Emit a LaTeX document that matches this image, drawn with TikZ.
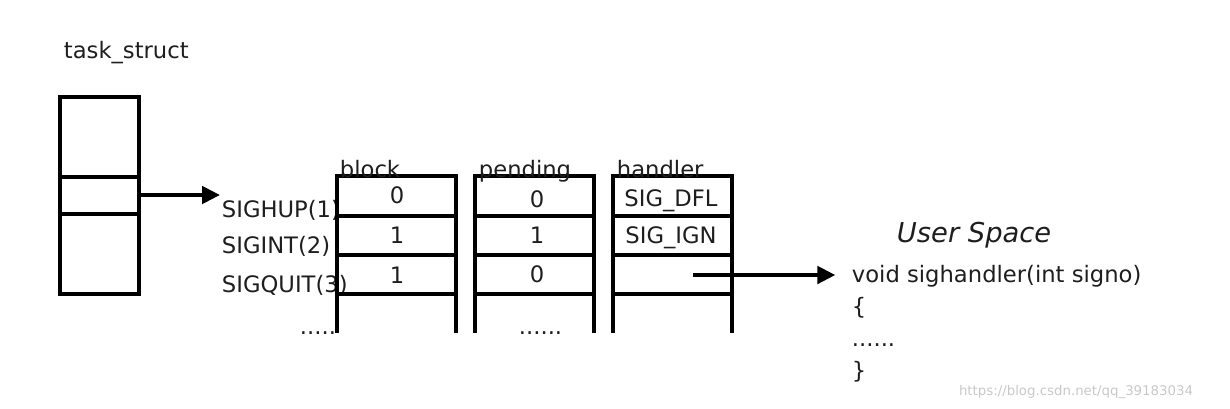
\documentclass[tikz,border=0pt]{standalone}
\usepackage{fontspec}
\setmainfont{DejaVu Sans}
\usetikzlibrary{arrows.meta, calc}
\definecolor{inkgray}{RGB}{30, 30, 30}
\definecolor{markgray}{RGB}{200, 200, 200}

\begin{document}
\begin{tikzpicture}[x=0.75pt, y=-0.75pt, >={Triangle[length=13.5pt, width=13pt]},
  line width=2.9pt,
  txt/.style={font=\fontsize{17}{20}\selectfont, text=inkgray, inner sep=0pt, anchor=base west},
  val/.style={font=\fontsize{17}{20}\selectfont, text=inkgray, inner sep=0pt, anchor=base}]

  \useasboundingbox (0,0) rectangle (1230,408);

  % task_struct box
  \node[txt] (tslabel) at (62,58) {task\_struct};
  \draw (60,97) rectangle (139,294);
  \draw (60,177) -- (139,177);
  \draw (60,214) -- (139,214);
  \coordinate (sigptr) at (139,195);

  % Signal names
  \node[txt] (sighup) at (220,217) {SIGHUP(1)};
  \node[txt] (sigint) at (220,253) {SIGINT(2)};
  \node[txt] (sigquit) at (220,292) {SIGQUIT(3)};
  \node[txt] (namedots) at (298,334) {.....};

  \draw[->] (sigptr) -- (sigptr -| sighup.west);

  % The three tables
  \foreach \x in {337,475,613} {
    \draw (\x,333) -- (\x,176) -- (\x+119,176) -- (\x+119,333);
    \foreach \y in {216,255,294}
      \draw (\x,\y) -- (\x+119,\y);
  }

  % Table headings
  \node[txt] (blockhd) at (338,177) {block};
  \node[txt] (pendinghd) at (477,177) {pending};
  \node[txt] (handlerhd) at (615,177) {handler};

  % block bits
  \node[val] (blk1) at (397,203) {0};
  \node[val] (blk2) at (397,243) {1};
  \node[val] (blk3) at (397,283) {1};

  % pending bits
  \node[val] (pnd1) at (537,207) {0};
  \node[val] (pnd2) at (537,243) {1};
  \node[val] (pnd3) at (537,282) {0};
  \node[txt] (pnddots) at (517,334) {......};

  % handler entries
  \node[val] (hnd1) at (671,206) {SIG\_DFL};
  \node[val] (hnd2) at (671,243) {SIG\_IGN};
  \coordinate (hndptr) at (693,275);

  % User space function
  \node[txt, font=\fontsize{20.5}{24}\selectfont\itshape] (userspace) at (895,242) {User Space};
  \node[txt] (func) at (850,282) {void sighandler(int signo)};
  \node[txt] (lbrace) at (850,314) {\{};
  \node[txt] (body) at (850,346) {......};
  \node[txt] (rbrace) at (850,378) {\}};

  \draw[->, shorten >=11pt] (hndptr) -- (hndptr -| func.west);

  % Watermark
  \node[txt, anchor=base east, font=\fontsize{10}{12}\selectfont, text=markgray] (mark) at (1195,395) {https://blog.csdn.net/qq\_39183034};

\end{tikzpicture}
\end{document}
